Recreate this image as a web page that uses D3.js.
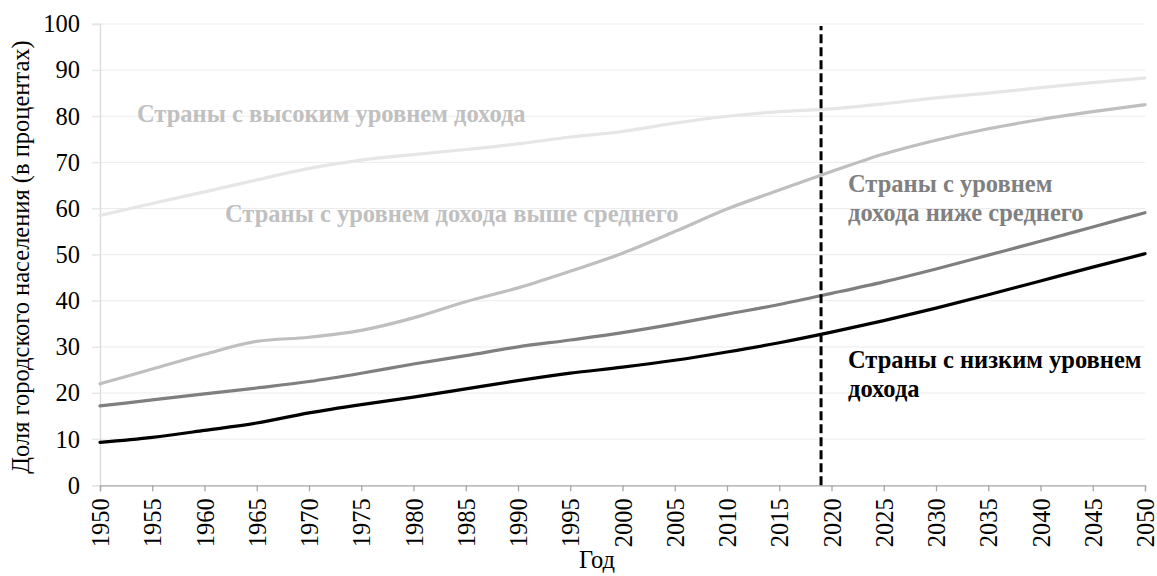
<!DOCTYPE html>
<html>
<head>
<meta charset="utf-8">
<script src="https://cdn.jsdelivr.net/npm/d3@7"></script>
<style>
body { margin: 0; background: #fff; }
text { font-family: "Liberation Serif", "Times New Roman", "DejaVu Serif", serif; }
</style>
</head>
<body>
<svg id="chart" width="1157" height="576"></svg>
<script>
// years and series (percent urban population)
var years = [1950,1955,1960,1965,1970,1975,1980,1985,1990,1995,2000,2005,2010,2015,2020,2025,2030,2035,2040,2045,2050]
var high = [58.5,61.1,63.6,66.2,68.7,70.5,71.7,72.8,74.0,75.5,76.7,78.5,80.0,81.0,81.6,82.7,84.0,85.0,86.2,87.3,88.3]
var upperMid = [22.0,25.2,28.4,31.2,32.1,33.6,36.3,39.8,42.8,46.4,50.3,55.0,59.9,64.0,68.0,71.8,74.8,77.3,79.3,81.0,82.5]
var lowerMid = [17.2,18.5,19.8,21.1,22.5,24.3,26.3,28.1,30.0,31.5,33.1,35.0,37.1,39.2,41.6,44.1,46.9,49.9,52.9,56.0,59.1]
var low = [9.3,10.4,11.9,13.5,15.7,17.5,19.1,20.9,22.7,24.3,25.6,27.1,28.9,30.9,33.2,35.7,38.4,41.3,44.3,47.3,50.2]
var yTicks = [0,10,20,30,40,50,60,70,80,90,100]
var splitYear = 2019

var series = [
  {name: "high", values: high, color: "#e6e6e6"},
  {name: "upperMid", values: upperMid, color: "#bfbfbf"},
  {name: "lowerMid", values: lowerMid, color: "#7f7f7f"},
  {name: "low", values: low, color: "#000000"}
]

var svg = d3.select("#chart")

var x = d3.scaleLinear().domain([1950, 2050]).range([100, 1145])
var y = d3.scaleLinear().domain([0, 100]).range([485.3, 24])

// gridlines
svg.append("g").selectAll("line").data(yTicks.slice(1))
  .enter().append("line")
  .attr("x1", x(1950) - 8).attr("x2", x(2050))
  .attr("y1", function(d){return y(d)}).attr("y2", function(d){return y(d)})
  .attr("stroke", "#ececec").attr("stroke-width", 1)

// y axis
var yAxis = svg.append("g").attr("transform", "translate(" + x(1950) + ",0)")
  .call(d3.axisLeft(y).tickValues(yTicks).tickSize(8).tickPadding(12))
yAxis.attr("font-family", null)
yAxis.select(".domain").attr("stroke", "#d9d9d9").attr("stroke-width", 1.3)
yAxis.selectAll(".tick line").attr("stroke", "#e6e6e6")
yAxis.selectAll("text").style("font-size", "24.5px").attr("fill", "#000")

// x axis
var xAxis = svg.append("g").attr("transform", "translate(0," + y(0) + ")")
  .call(d3.axisBottom(x).tickValues(years).tickFormat(d3.format("d")).tickSize(6))
xAxis.attr("font-family", null)
xAxis.select(".domain").attr("stroke", "#a6a6a6").attr("stroke-width", 1.3)
xAxis.selectAll(".tick line").attr("stroke", "#a6a6a6").attr("stroke-width", 1.3)
xAxis.selectAll("text")
  .style("font-size", "24.5px").attr("fill", "#000")
  .attr("transform", "rotate(-90)")
  .attr("text-anchor", "end")
  .attr("x", -13).attr("y", 0).attr("dy", "0.35em")

// lines
var line = d3.line()
  .x(function(d, i){return x(years[i])})
  .y(function(d){return y(d)})
  .curve(d3.curveMonotoneX)

svg.append("g").selectAll("path").data(series)
  .enter().append("path")
  .attr("d", function(d){return line(d.values)})
  .attr("fill", "none")
  .attr("stroke", function(d){return d.color})
  .attr("stroke-width", 3.2)
  .attr("stroke-linecap", "round")

// dashed divider
svg.append("line")
  .attr("x1", x(splitYear)).attr("x2", x(splitYear))
  .attr("y1", y(0)).attr("y2", y(100) + 2)
  .attr("stroke", "#000").attr("stroke-width", 3)
  .attr("stroke-dasharray", "9,4")

// series labels
var labels = [
  {lines: ["Страны с высоким уровнем дохода"], px: 137, py: 122, color: "#c0c0c0"},
  {lines: ["Страны с уровнем дохода выше среднего"], px: 225, py: 222, color: "#c0c0c0"},
  {lines: ["Страны с уровнем", "дохода ниже среднего"], px: 848, py: 192, color: "#808080"},
  {lines: ["Страны с низким уровнем", "дохода"], px: 848, py: 368, color: "#000"}
]
labels.forEach(function(l){
  var t = svg.append("text")
    .attr("x", l.px).attr("y", l.py)
    .attr("fill", l.color)
    .style("font-size", "24.5px").style("font-weight", "bold")
  l.lines.forEach(function(s, i){
    t.append("tspan").attr("x", l.px).attr("dy", i == 0 ? 0 : 28.5).text(s)
  })
})

// axis titles
svg.append("text")
  .attr("transform", "translate(29,257) rotate(-90)")
  .attr("text-anchor", "middle")
  .style("font-size", "24.5px")
  .text("Доля городского населения (в процентах)")

svg.append("text")
  .attr("x", 597).attr("y", 568)
  .attr("text-anchor", "middle")
  .style("font-size", "24.5px")
  .text("Год")
</script>
</body>
</html>
